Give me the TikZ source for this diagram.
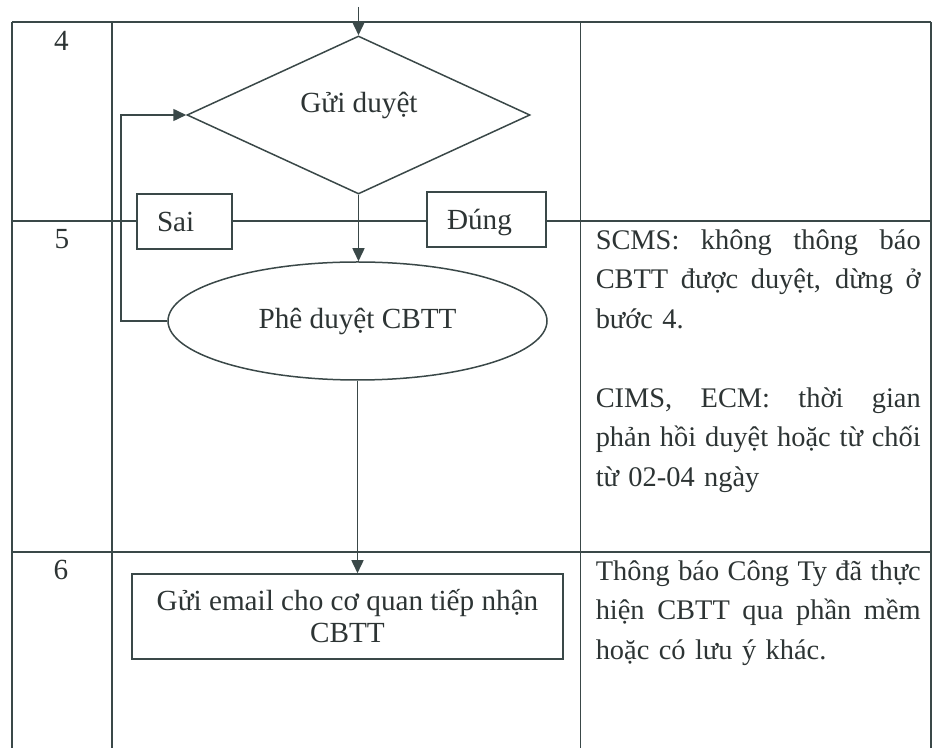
\documentclass[tikz,border=0pt]{standalone}
\usepackage{fontspec}
\setmainfont{Liberation Serif}
\usepackage{xcolor}
\usepackage{tikz}
\usetikzlibrary{arrows.meta,positioning,shapes.geometric,calc}
\definecolor{ink}{RGB}{58,72,72}
\definecolor{txt}{RGB}{45,52,52}
\newcommand{\jline}[1]{\leavevmode\hbox to 162.5pt{\spaceskip=0.25em plus 1em minus 0.12em #1}}

\begin{document}
\begin{tikzpicture}[x=0.5pt, y=-0.5pt, line width=0.75pt, every node/.style={font=\fontsize{14.6}{16}\selectfont, text=txt}, grid/.style={draw=ink, line width=0.7pt}, diam/.style={draw=ink, diamond, aspect=2.17, minimum width=171.5pt, minimum height=79pt, inner sep=0pt}, oval/.style={draw=ink, ellipse, minimum width=189.5pt, minimum height=59pt, inner sep=0pt}, box/.style={draw=ink, fill=white, align=center, minimum width=215.5pt, minimum height=42.5pt, inner sep=0pt}, flag/.style={draw=ink, fill=white, align=left, inner xsep=10pt, inner ysep=0pt, minimum height=27.5pt, text height=10pt, text depth=0pt}, note/.style={anchor=north west, align=left, text width=162.5pt, inner sep=0pt, font=\fontsize{14.2}{19.6}\selectfont}, num/.style={anchor=base}, arr/.style={draw=ink, -{Triangle[length=6.5pt,width=6pt]}}]
\useasboundingbox (0,0) rectangle (934,748);
% table
\foreach \y in {22,221,552} \draw[grid] (12,\y) -- (931,\y);
\foreach \x in {12,112,580.5,931} \draw[grid] (\x,22) -- (\x,748);
\node[num] (n4) at (61.5,51) {4};
\node[num] (n5) at (62,249) {5};
\node[num] (n6) at (61,580) {6};
% flow
\coordinate (top) at (358.5,7);
\node[diam] (send) at (358.5,115) {};
\node[anchor=base] (sendtxt) at (359,113) {Gửi duyệt};
\node[flag, text width=27.5pt] (no) at (184.5,221.5) {Sai};
\node[flag, text width=39.5pt] (yes) at (486.5,219.5) {Đúng};
\node[oval] (approve) at (357.5,321) {Phê duyệt CBTT};
\node[box] (mail) at (347.5,616.5) {Gửi email cho cơ quan tiếp nhận\\CBTT};
\coordinate (back) at (121,321);
\draw[arr] (top) -- (send.north); \draw[arr] (send.south) -- (send.south |- approve.north); \draw[arr] (approve.west) -- (back) |- (send.west); \draw[arr] (approve.south) -- (approve.south |- mail.north);
% notes
\node[note] (note5a) at (595,221.6) {\strut\jline{SCMS: không thông báo}\\\jline{CBTT được duyệt, dừng ở}\\bước 4.};
\node[note] (note5b) at (595,379.6) {\strut\jline{CIMS, ECM: thời gian}\\\jline{phản hồi duyệt hoặc từ chối}\\từ 02-04 ngày};
\node[note] (note6) at (595,552.6) {\strut\jline{Thông báo Công Ty đã thực}\\\jline{hiện CBTT qua phần mềm}\\hoặc có lưu ý khác.};
\end{tikzpicture}
\end{document}
